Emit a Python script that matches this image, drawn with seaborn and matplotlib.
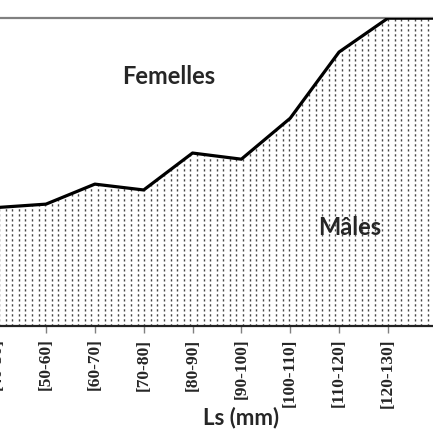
import numpy as np
import pandas as pd
import seaborn as sns
import matplotlib.pyplot as plt
from matplotlib.collections import LineCollection

# classes de taille (Ls) et part des mâles (%)
classes = ["[40-50]", "[50-60]", "[60-70]", "[70-80]", "[80-90]",
           "[90-100]", "[100-110]", "[110-120]", "[120-130]", "[130-140]"]
males = [38.5, 39.6, 46.1, 44.2, 56.2, 54.2, 67.5, 89.0, 100, 100]

df = pd.DataFrame({"classe": classes, "males": males, "pos": np.arange(len(classes))})

sns.set_style("white")
plt.rcParams["lines.scale_dashes"] = False

fig = plt.figure(figsize=(4.33, 4.33), dpi=100)
# the source is a crop: the axes run past the left and right edges
ax = fig.add_axes([-0.063, 0.247, 1.128, 0.711])

poly = ax.fill_between(df["pos"], 0, df["males"], color="white", lw=0, zorder=1)

# dotted vertical texture, clipped to the area
xs = np.arange(-0.5, 9.6, 0.135)
segs = [[(x, 0), (x, 100)] for x in xs]
tex = LineCollection(segs, colors="#444444", linewidths=1.0,
                     linestyles=[(0, (1.6, 2.0))], zorder=2)
ax.add_collection(tex)
tex.set_clip_path(poly.get_paths()[0], ax.transData)

sns.lineplot(data=df, x="pos", y="males", color="black", lw=2.3, ax=ax, zorder=3)

ax.set_xlim(-0.5, 9.5)
ax.set_ylim(0, 100)
# last class falls just outside the visible crop
ax.set_xticks(df["pos"][:9])
ax.set_xticklabels(classes[:9], rotation=90, fontsize=12.5, fontweight="bold",
                   family="Liberation Serif")
ax.set_yticks([])
ax.tick_params(axis="x", direction="out", length=5, width=1, color="#808080",
               pad=4, bottom=True)
ax.set_xlabel("Ls (mm)", fontsize=16, fontweight="bold", family="Lato")
ax.xaxis.set_label_coords(0.549, -0.262)
ax.set_ylabel("")

for s in ["left", "right"]:
    ax.spines[s].set_visible(False)
ax.spines["top"].set_color("#808080")
ax.spines["top"].set_linewidth(1.6)
ax.spines["bottom"].set_color("#222222")
ax.spines["bottom"].set_linewidth(1.6)

ax.text(3.52, 81.2, "Femelles", fontsize=17, fontweight="bold", family="Lato",
        ha="center", va="center", zorder=4)
ax.text(7.22, 32.1, "Mâles", fontsize=17, fontweight="bold", family="Lato",
        ha="center", va="center", zorder=4)

fig.savefig("out.png", dpi=100)
